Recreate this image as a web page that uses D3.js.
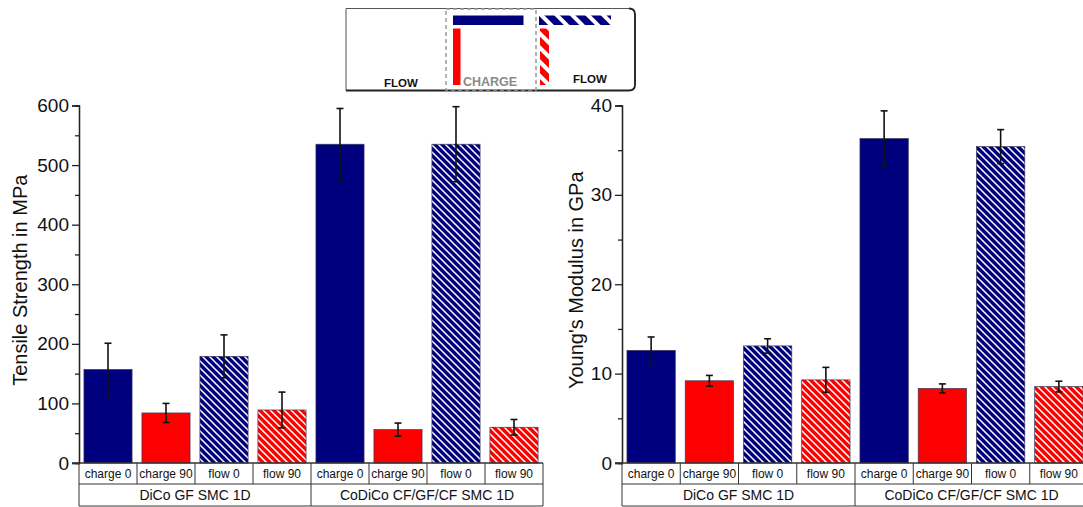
<!DOCTYPE html>
<html><head><meta charset="utf-8">
<script src="https://cdn.jsdelivr.net/npm/d3@7"></script>
<style>html,body{margin:0;padding:0;background:#fff;}svg{display:block;font-family:"Liberation Sans",Arial,sans-serif;}</style>
</head><body>
<svg id="chart" width="1083" height="507"></svg>
<script>
const groups = ["DiCo GF SMC 1D", "CoDiCo CF/GF/CF SMC 1D"];
const conditions = ["charge 0", "charge 90", "flow 0", "flow 90"];
const tensile = [157, 84, 179, 89, 535, 56, 535, 60];
const tensileErr = [44, 16, 36, 30, 60, 11, 63, 13];
const modulus = [12.6, 9.2, 13.1, 9.3, 36.3, 8.35, 35.4, 8.55];
const modulusErr = [1.5, 0.6, 0.8, 1.4, 3.1, 0.5, 1.9, 0.6];
const tensileTicks = [0, 100, 200, 300, 400, 500, 600];
const modulusTicks = [0, 10, 20, 30, 40];

const NAVY = "#00007f", RED = "#ff0000";
const fills = ["solidNavy", "solidRed", "hatchNavy", "hatchRed"];

const svg = d3.select("#chart");
const defs = svg.append("defs");
function hatch(id, color, period, sw) {
  const p = defs.append("pattern").attr("id", id).attr("patternUnits", "userSpaceOnUse")
    .attr("width", period).attr("height", period);
  p.append("rect").attr("width", period).attr("height", period).attr("fill", color);
  p.append("path").attr("d", `M-1,-1L${period+1},${period+1}M${-period/2},${period/2}L${period/2},${period*1.5}M${period/2},${-period/2}L${period*1.5},${period/2}`)
    .attr("stroke", "#fff").attr("stroke-width", sw);
}
hatch("hatchNavy", NAVY, 7, 1.5);
hatch("hatchRed", RED, 7, 1.5);
function stripe(id, color, period, w) {
  const p = defs.append("pattern").attr("id", id).attr("patternUnits", "userSpaceOnUse")
    .attr("width", period).attr("height", period).attr("patternTransform", "rotate(-45)");
  p.append("rect").attr("width", period).attr("height", period).attr("fill", "#fff");
  p.append("rect").attr("width", w).attr("height", period).attr("fill", color);
}
stripe("insetNavy", NAVY, 11, 7);
stripe("insetRed", RED, 10, 6);
const fillOf = i => {
  const c = i % 4;
  return c === 0 ? NAVY : c === 1 ? RED : c === 2 ? "url(#hatchNavy)" : "url(#hatchRed)";
};

const keys = [];
groups.forEach(g => conditions.forEach(c => keys.push(g + "|" + c)));

function panel(opts) {
  const {x0, x1, y0, y1, values, errs, ticks, domainMax, minorStep, title, titleX} = opts;
  const g = svg.append("g");
  const x = d3.scaleBand().domain(keys).range([x0, x1]).paddingInner(0.17).paddingOuter(0.085);
  const cell = d3.scaleBand().domain(keys).range([x0, x1]);
  const gx = d3.scaleBand().domain(groups).range([x0, x1]);
  const y = d3.scaleLinear().domain([0, domainMax]).range([y1, y0]);

  // bars
  g.selectAll("rect.bar").data(values).join("rect").attr("class", "bar")
    .attr("x", (d, i) => x(keys[i])).attr("width", x.bandwidth())
    .attr("y", d => y(d)).attr("height", d => y(0) - y(d))
    .attr("fill", (d, i) => fillOf(i)).attr("stroke", "#3a3a5a").attr("stroke-width", 0.7);

  // error bars
  const eb = g.selectAll("g.err").data(values).join("g").attr("class", "err")
    .attr("stroke", "#111").attr("stroke-width", 1.6);
  eb.append("line").attr("x1", (d, i) => x(keys[i]) + x.bandwidth() / 2).attr("x2", (d, i) => x(keys[i]) + x.bandwidth() / 2)
    .attr("y1", (d, i) => y(d + errs[i])).attr("y2", (d, i) => y(d - errs[i]));
  eb.append("line").attr("x1", (d, i) => x(keys[i]) + x.bandwidth() / 2 - 3.5).attr("x2", (d, i) => x(keys[i]) + x.bandwidth() / 2 + 3.5)
    .attr("y1", (d, i) => y(d + errs[i])).attr("y2", (d, i) => y(d + errs[i]));
  eb.append("line").attr("x1", (d, i) => x(keys[i]) + x.bandwidth() / 2 - 3.5).attr("x2", (d, i) => x(keys[i]) + x.bandwidth() / 2 + 3.5)
    .attr("y1", (d, i) => y(d - errs[i])).attr("y2", (d, i) => y(d - errs[i]));

  // y axis
  const minor = d3.range(minorStep, domainMax, minorStep * 2);
  const ax = g.append("g").attr("transform", `translate(${x0},0)`);
  ax.call(d3.axisLeft(y).tickValues(minor).tickSize(4).tickFormat(""));
  ax.append("g").call(d3.axisLeft(y).tickValues(ticks).tickSize(7).tickPadding(3).tickFormat(d3.format("d")));
  ax.selectAll(".domain").attr("stroke", "#222").attr("stroke-width", 1.3);
  ax.selectAll(".tick line").attr("stroke", "#222").attr("stroke-width", 1.3);
  ax.selectAll(".tick text").attr("font-size", 19).attr("fill", "#111")
    .attr("font-family", "Liberation Sans, Arial, sans-serif");

  // category table
  const r0 = y1, r1 = y1 + 21, r2 = y1 + 43;
  const t = g.append("g").attr("stroke", "#333").attr("stroke-width", 1).attr("fill", "none");
  t.append("line").attr("x1", x0 - 7).attr("x2", x1).attr("y1", r0).attr("y2", r0).attr("stroke-width", 1.3);
  t.append("line").attr("x1", x0).attr("x2", x1).attr("y1", r1).attr("y2", r1);
  t.append("line").attr("x1", x0).attr("x2", x1).attr("y1", r2).attr("y2", r2);
  t.selectAll("line.c").data(keys).join("line").attr("class", "c")
    .attr("x1", d => cell(d)).attr("x2", d => cell(d)).attr("y1", r0).attr("y2", r1);
  t.selectAll("line.g").data(groups).join("line").attr("class", "g")
    .attr("x1", d => gx(d)).attr("x2", d => gx(d)).attr("y1", r1).attr("y2", r2);
  t.append("line").attr("x1", x1).attr("x2", x1).attr("y1", r0).attr("y2", r2);
  g.selectAll("text.cat").data(keys).join("text").attr("class", "cat")
    .attr("x", d => cell(d) + cell.bandwidth() / 2).attr("y", r0 + 15)
    .attr("text-anchor", "middle").attr("font-size", 12).attr("fill", "#111")
    .text(d => d.split("|")[1]);
  g.selectAll("text.grp").data(groups).join("text").attr("class", "grp")
    .attr("x", d => gx(d) + gx.bandwidth() / 2).attr("y", r1 + 16)
    .attr("text-anchor", "middle").attr("font-size", 14).attr("fill", "#111").text(d => d);

  // title
  g.append("text").attr("transform", `translate(${titleX},${(y0 + y1) / 2 - 4}) rotate(-90)`)
    .attr("text-anchor", "middle").attr("font-size", 20).attr("fill", "#111").text(title);
}

panel({x0: 79, x1: 543, y0: 105.5, y1: 463, values: tensile, errs: tensileErr, ticks: tensileTicks,
  domainMax: 600, minorStep: 50, title: "Tensile Strength in MPa", titleX: 27});
panel({x0: 622, x1: 1088, y0: 105.5, y1: 463, values: modulus, errs: modulusErr, ticks: modulusTicks,
  domainMax: 40, minorStep: 5, title: "Young's Modulus in GPa", titleX: 583});

// inset diagram
const ins = svg.append("g");
ins.append("path").attr("d", "M346,8.5 H629 Q635,8.5 635,14.5 V84.5 Q635,90.5 629,90.5 H346 Z")
  .attr("fill", "#fff").attr("stroke", "#555").attr("stroke-width", 1);
ins.append("path").attr("d", "M346,90.5 H629 Q635,90.5 635,84.5 V14.5 Q635,8.5 629,8.5")
  .attr("fill", "none").attr("stroke", "#222").attr("stroke-width", 1.8);
ins.append("rect").attr("x", 446).attr("y", 9).attr("width", 90).attr("height", 81)
  .attr("fill", "none").attr("stroke", "#999").attr("stroke-width", 1.5).attr("stroke-dasharray", "4,3");
ins.append("rect").attr("x", 453).attr("y", 15.5).attr("width", 70.5).attr("height", 9.5).attr("fill", NAVY);
ins.append("rect").attr("x", 453).attr("y", 28.5).attr("width", 7.5).attr("height", 56.5).attr("fill", RED);
ins.append("rect").attr("x", 539).attr("y", 15.5).attr("width", 72).attr("height", 9.5).attr("fill", "url(#insetNavy)");
ins.append("rect").attr("x", 540).attr("y", 28.5).attr("width", 9).attr("height", 56.5).attr("fill", "url(#insetRed)");
ins.append("text").attr("x", 401).attr("y", 87).attr("text-anchor", "middle").attr("font-size", 11.5)
  .attr("font-weight", "bold").attr("fill", "#111").text("FLOW");
ins.append("text").attr("x", 490).attr("y", 86).attr("text-anchor", "middle").attr("font-size", 12.5)
  .attr("font-weight", "bold").attr("fill", "#8a8a8a").text("CHARGE");
ins.append("text").attr("x", 590).attr("y", 83).attr("text-anchor", "middle").attr("font-size", 11.5)
  .attr("font-weight", "bold").attr("fill", "#111").text("FLOW");
</script>
</body></html>
